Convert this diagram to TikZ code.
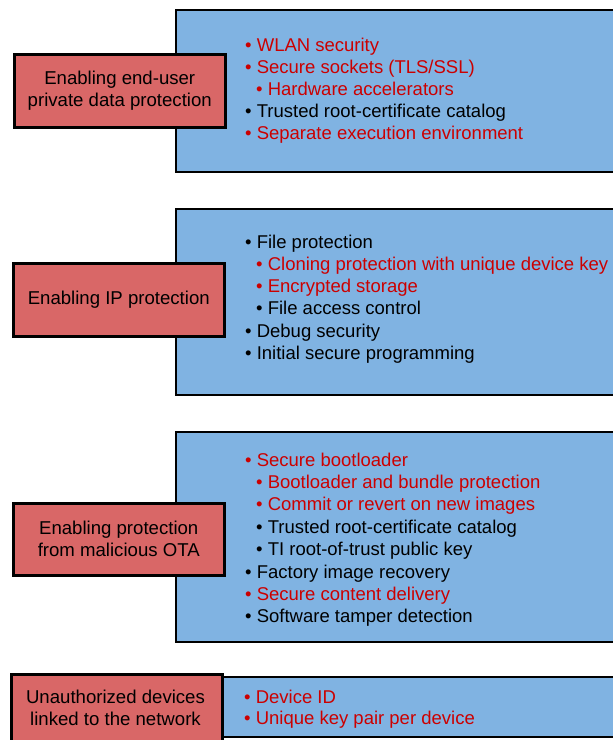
\documentclass[tikz,border=0pt]{standalone}
\usepackage{fontspec}
\setmainfont{Liberation Sans}
\definecolor{boxblue}{RGB}{128,179,226}
\definecolor{boxred}{RGB}{217,103,103}
\definecolor{txtred}{RGB}{204,0,0}
\begin{document}
\begin{tikzpicture}[x=1pt,y=-1pt,
  bluebox/.style={draw=black,line width=2.5pt,fill=boxblue},
  redbox/.style={draw=black,line width=2.5pt,fill=boxred,align=center,
    font=\fontsize{18.6}{22}\selectfont,inner sep=0pt},
  itm/.style={anchor=base west,inner sep=0pt,font=\fontsize{18.5}{22}\selectfont},
  hot/.style={itm,text=txtred}]
\useasboundingbox (0,0) rectangle (613,740);
\clip (0,0) rectangle (613,740);
% blue boxes
\path[bluebox] (176,10) rectangle (625,172);
\path[bluebox] (176,209) rectangle (625,395);
\path[bluebox] (176,432) rectangle (625,642);
\path[bluebox] (221,677) rectangle (625,737);
% red boxes
\node[redbox,minimum width=211pt,minimum height=73pt,anchor=north west] (r1) at (13,53)
  {Enabling end-user\\private data protection};
\node[redbox,minimum width=211pt,minimum height=73pt,anchor=north west] (r2) at (12,262)
  {Enabling IP protection};
\node[redbox,minimum width=211pt,minimum height=72pt,anchor=north west] (r3) at (12,502)
  {Enabling protection\\from malicious OTA};
\node[redbox,minimum width=211pt,minimum height=80pt,anchor=north west] (r4) at (10,673) {};
\node[inner sep=0pt,align=center,font=\fontsize{18.6}{22}\selectfont,anchor=center] (r4t) at (115.5,708)
  {Unauthorized devices\\linked to the network};
% box 1
\node[hot] (a1) at (245,51) {\textbullet\ WLAN security};
\node[hot] (a2) at (245,73) {\textbullet\ Secure sockets (TLS/SSL)};
\node[hot] (a3) at (256,95) {\textbullet\ Hardware accelerators};
\node[itm] (a4) at (245,117) {\textbullet\ Trusted root-certificate catalog};
\node[hot] (a5) at (245,139) {\textbullet\ Separate execution environment};
% box 2
\node[itm] (b1) at (245,248) {\textbullet\ File protection};
\node[hot] (b2) at (256,270) {\textbullet\ Cloning protection with unique device key};
\node[hot] (b3) at (256,292) {\textbullet\ Encrypted storage};
\node[itm] (b4) at (256,314) {\textbullet\ File access control};
\node[itm] (b5) at (245,337) {\textbullet\ Debug security};
\node[itm] (b6) at (245,359) {\textbullet\ Initial secure programming};
% box 3
\node[hot] (c1) at (245,466) {\textbullet\ Secure bootloader};
\node[hot] (c2) at (256,488) {\textbullet\ Bootloader and bundle protection};
\node[hot] (c3) at (256,510) {\textbullet\ Commit or revert on new images};
\node[itm] (c4) at (256,533) {\textbullet\ Trusted root-certificate catalog};
\node[itm] (c5) at (256,555) {\textbullet\ TI root-of-trust public key};
\node[itm] (c6) at (245,578) {\textbullet\ Factory image recovery};
\node[hot] (c7) at (245,600) {\textbullet\ Secure content delivery};
\node[itm] (c8) at (245,622) {\textbullet\ Software tamper detection};
% box 4
\node[hot] (d1) at (244,703) {\textbullet\ Device ID};
\node[hot] (d2) at (244,724) {\textbullet\ Unique key pair per device};
\end{tikzpicture}
\end{document}
